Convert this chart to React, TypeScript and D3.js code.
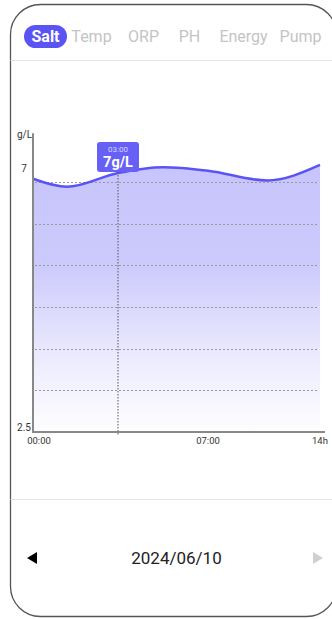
import React from "react";
import * as d3 from "d3";

const TABS = ["Salt", "Temp", "ORP", "PH", "Energy", "Pump"];
const TAB_X = [45.5, 91.5, 143.5, 189.5, 243.5, 300.5];
const ACTIVE_TAB = 0;

const HOURS = [0, 1.2, 3, 5, 7, 10.7, 14];
const VALUES = [6.9, 6.76, 7.0, 7.1, 7.04, 6.87, 7.14];

const X_TICKS = [0, 7, 14];
const X_TICK_LABELS = ["00:00", "07:00", "14h"];
const Y_TICKS = [2.5, 7];
const Y_TICK_LABELS = ["2.5", "7"];
const Y_UNIT = "g/L";
const GRID_COUNT = 6;
const GRID_TOP_VALUE = 6.84;

const TOOLTIP_HOUR = 3;
const TOOLTIP_TIME = "03:00";
const TOOLTIP_VALUE = "7g/L";
const DATE_LABEL = "2024/06/10";

const W = 332;
const H = 619;
const FONT = "Roboto, 'Noto Sans', sans-serif";

export default function App() {
  const x = d3.scaleLinear().domain([0, 3, 7, 14]).range([33, 118, 208, 320]);
  const y = d3.scaleLinear().domain([2.5, 7]).range([432, 173]);
  const yTopVal = 7.69;

  const pts = HOURS.map((h, i) => [h, VALUES[i]] as [number, number]);
  const line = d3
    .line<[number, number]>()
    .x((d) => x(d[0]))
    .y((d) => y(d[1]))
    .curve(d3.curveMonotoneX);
  const area = d3
    .area<[number, number]>()
    .x((d) => x(d[0]))
    .y0(y(2.5))
    .y1((d) => y(d[1]))
    .curve(d3.curveMonotoneX);

  const gridVals = d3.range(1, GRID_COUNT + 1).map((k) => 2.5 + (k * (GRID_TOP_VALUE - 2.5)) / GRID_COUNT);

  const tx = x(TOOLTIP_HOUR);
  const tipW = 42;
  const tipH = 30;
  const tipTop = 142;

  return (
    <svg
      width={W}
      height={H}
      style={{ position: "absolute", left: 0, top: 0, background: "#fff" }}
      fontFamily={FONT}
    >
      <defs>
        <linearGradient id="fillGrad" gradientUnits="userSpaceOnUse" x1="0" x2="0" y1={y(7)} y2={y(2.5)}>
          <stop offset="0" stopColor="#5b54f5" stopOpacity={0.34} />
          <stop offset="0.35" stopColor="#5b54f5" stopOpacity={0.31} />
          <stop offset="0.75" stopColor="#5b54f5" stopOpacity={0.1} />
          <stop offset="1" stopColor="#5b54f5" stopOpacity={0.01} />
        </linearGradient>
      </defs>

      {/* frame */}
      <rect x={10.5} y={4.5} width={326} height={612} rx={30} ry={30} fill="none" stroke="#555" strokeWidth={1.3} />

      {/* tabs */}
      <rect x={24} y={25} width={43} height={23} rx={11.5} fill="#5b54f5" />
      {TABS.map((t, i) => (
        <text
          key={t}
          x={TAB_X[i]}
          y={41.5}
          textAnchor="middle"
          fontSize={16}
          fontWeight={i === ACTIVE_TAB ? 700 : 400}
          fill={i === ACTIVE_TAB ? "#fff" : "#c4c4c4"}
        >
          {t}
        </text>
      ))}
      <line x1={10.5} x2={W} y1={60.5} y2={60.5} stroke="#e4e4e4" strokeWidth={1} />

      {/* area + line */}
      <path d={area(pts) || ""} fill="url(#fillGrad)" />

      {/* grid */}
      {gridVals.map((v, i) => (
        <line
          key={i}
          x1={35}
          x2={319}
          y1={Math.round(y(v)) + 0.5}
          y2={Math.round(y(v)) + 0.5}
          stroke="#9a9a9a"
          strokeWidth={1}
          strokeDasharray="2,2"
        />
      ))}

      <path d={line(pts) || ""} fill="none" stroke="#5b54f5" strokeWidth={2.5} />

      {/* crosshair */}
      <line x1={tx} x2={tx} y1={tipTop + tipH} y2={435} stroke="#555" strokeWidth={1} strokeDasharray="1.5,1.5" />

      {/* axes */}
      <line x1={33} x2={33} y1={y(yTopVal)} y2={y(2.5) + 1} stroke="#888" strokeWidth={2} />
      <line x1={32} x2={325} y1={y(2.5)} y2={y(2.5)} stroke="#888" strokeWidth={2} />

      <text x={24.5} y={138} textAnchor="middle" fontSize={10} fill="#333">
        {Y_UNIT}
      </text>
      {Y_TICKS.map((v, i) => (
        <text key={v} x={24} y={y(v) - 1.5} textAnchor="middle" fontSize={10} fill="#333">
          {Y_TICK_LABELS[i]}
        </text>
      ))}
      {X_TICKS.map((h, i) => (
        <text key={h} x={x(h) + (i === 0 ? 6 : 0)} y={443.5} textAnchor="middle" fontSize={9.5} fill="#333">
          {X_TICK_LABELS[i]}
        </text>
      ))}

      {/* tooltip */}
      <rect x={tx - 21} y={tipTop} width={tipW} height={tipH} rx={3} fill="#6660f7" />
      <text x={tx} y={151.5} textAnchor="middle" fontSize={8} fill="#d6d4ff">
        {TOOLTIP_TIME}
      </text>
      <text x={tx} y={167} textAnchor="middle" fontSize={14.5} fontWeight={700} fill="#fff">
        {TOOLTIP_VALUE}
      </text>

      <line x1={10.5} x2={W} y1={499.5} y2={499.5} stroke="#e4e4e4" strokeWidth={1} />

      {/* date nav */}
      <polygon points="27,558 37,552 37,564" fill="#000" />
      <text x={176.5} y={564} textAnchor="middle" fontSize={17} fill="#222">
        {DATE_LABEL}
      </text>
      <polygon points="323,558 313,552 313,564" fill="#cfcfcf" />
    </svg>
  );
}
